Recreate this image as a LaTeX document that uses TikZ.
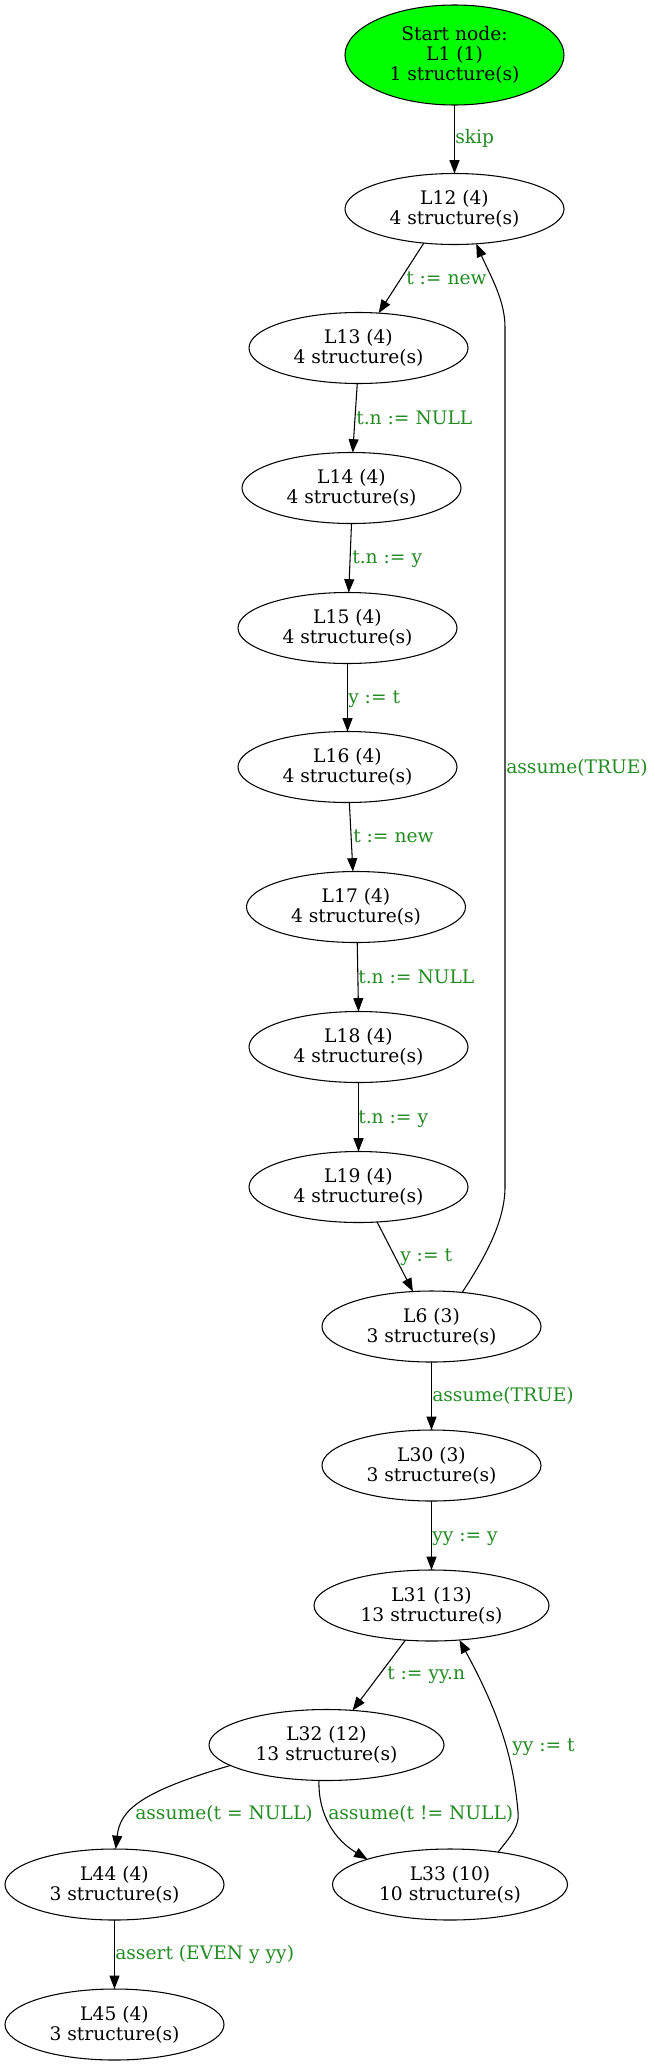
\documentclass[tikz,border=0pt]{standalone}
\usepackage{fontspec}
\setmainfont{DejaVu Serif}
\usetikzlibrary{arrows.meta,shapes.geometric}
\definecolor{lblgreen}{HTML}{228B22}
\definecolor{startgreen}{HTML}{00FF00}
\begin{document}
\begin{tikzpicture}[x=0.75pt,y=-0.75pt,
  state/.style={ellipse, draw, line width=0.8pt, inner sep=0pt, outer sep=0pt,
    minimum width=164.25pt, minimum height=53.25pt, align=center,
    font=\fontsize{14}{15}\selectfont},
  wide/.style={minimum width=176.25pt},
  startstate/.style={fill=startgreen, minimum height=75pt},
  edge/.style={draw, line width=0.8pt, -{Triangle[length=10pt,width=7.5pt]}},
  lbl/.style={anchor=base west, inner sep=0pt, text=lblgreen,
    font=\fontsize{14}{15}\selectfont}
]
\useasboundingbox (0,0) rectangle (655,2066);

\node[state,startstate] (L1) at (454.5,55) {Start node:\\L1 (1)\\1 structure(s)};
\node[state] (L12) at (454.5,209) {L12 (4)\\4 structure(s)};
\node[state] (L13) at (358.5,348) {L13 (4)\\4 structure(s)};
\node[state] (L14) at (351.5,488) {L14 (4)\\4 structure(s)};
\node[state] (L15) at (347.5,628) {L15 (4)\\4 structure(s)};
\node[state] (L16) at (347.5,767) {L16 (4)\\4 structure(s)};
\node[state] (L17) at (356,907) {L17 (4)\\4 structure(s)};
\node[state] (L18) at (358.5,1047) {L18 (4)\\4 structure(s)};
\node[state] (L19) at (358.5,1187) {L19 (4)\\4 structure(s)};
\node[state] (L6) at (431.5,1326.5) {L6 (3)\\3 structure(s)};
\node[state] (L30) at (431.5,1465.5) {L30 (3)\\3 structure(s)};
\node[state,wide] (L31) at (431.5,1605.5) {L31 (13)\\13 structure(s)};
\node[state,wide] (L32) at (326.5,1745) {L32 (12)\\13 structure(s)};
\node[state] (L44) at (114.5,1884.5) {L44 (4)\\3 structure(s)};
\node[state,wide] (L33) at (450,1884.5) {L33 (10)\\10 structure(s)};
\node[state] (L45) at (114.5,2024.5) {L45 (4)\\3 structure(s)};

\draw[edge] (L1.south) -- (L12.north);
\draw[edge] (L12.-132) -- (L13.60);
\draw[edge] (L13.-92) -- (L14.88);
\draw[edge] (L14.south) -- (L15.88);
\draw[edge] (L15.south) -- (L16.north);
\draw[edge] (L16.-87) -- (L17.95);
\draw[edge] (L17.-88) -- (L18.north);
\draw[edge] (L18.south) -- (L19.north);
\draw[edge] (L19.-62) -- (L6.118);
\draw[edge] (L6.48) .. controls (480,1265) and (505,1225) .. (505,1187) -- (505,327) .. controls (505,300) and (490,275) .. (L12.-58);
\draw[edge] (L6.south) -- (L30.north);
\draw[edge] (L30.south) -- (L31.north);
\draw[edge] (L31.-127) -- (L32.53);
\draw[edge] (L32.-168) .. controls (140,1792) and (120,1810) .. (L44.88);
\draw[edge] (L32.-102) .. controls (318,1815) and (335,1840) .. (L33.163);
\draw[edge] (L33.34) .. controls (510,1837) and (520,1826) .. (518,1812) .. controls (514,1765) and (503,1720) .. (L31.-51);
\draw[edge] (L44.south) -- (L45.north);

\node[lbl] (e1) at (455,143) {skip};
\node[lbl] (e2) at (406,284) {t := new};
\node[lbl] (e3) at (356,424) {t.n := NULL};
\node[lbl] (e4) at (352,563) {t.n := y};
\node[lbl] (e5) at (348,703) {y := t};
\node[lbl] (e6) at (353,842) {t := new};
\node[lbl] (e7) at (358,983) {t.n := NULL};
\node[lbl] (e8) at (358,1123) {t.n := y};
\node[lbl] (e9) at (400,1261) {y := t};
\node[lbl] (e10) at (506,773) {assume(TRUE)};
\node[lbl] (e11) at (432,1401) {assume(TRUE)};
\node[lbl] (e12) at (432,1541) {yy := y};
\node[lbl] (e13) at (387,1679) {t := yy.n};
\node[lbl] (e14) at (512,1751) {yy := t};
\node[lbl] (e15) at (135,1819) {assume(t = NULL)};
\node[lbl] (e16) at (328,1819) {assume(t != NULL)};
\node[lbl] (e17) at (115,1959) {assert (EVEN y yy)};
\end{tikzpicture}
\end{document}
